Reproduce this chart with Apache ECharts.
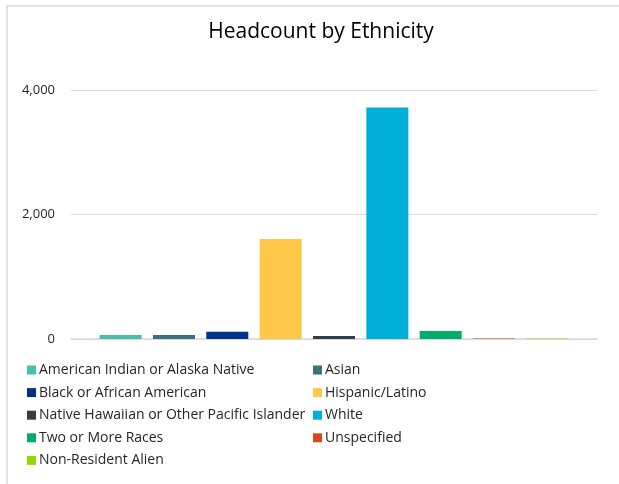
<!DOCTYPE html>
<html>
<head>
<meta charset="utf-8">
<script src="https://cdn.jsdelivr.net/npm/echarts@6/dist/echarts.min.js"></script>
<style>
  html, body { margin: 0; padding: 0; background: #fff; }
  #chart { width: 619px; height: 484px; }
</style>
</head>
<body>
<div id="chart"></div>
<script>
const categories = [
  "American Indian or Alaska Native",
  "Asian",
  "Black or African American",
  "Hispanic/Latino",
  "Native Hawaiian or Other Pacific Islander",
  "White",
  "Two or More Races",
  "Unspecified",
  "Non-Resident Alien"
];
const values = [65, 65, 115, 1605, 50, 3717, 130, 8, 8];
const colors = ["#44c1ab", "#3b707e", "#00338c", "#ffc848", "#333f48", "#00b0d8", "#00ad69", "#d54b1e", "#97d700"];
const yTicks = [0, 2000, 4000];

const chart = echarts.init(document.getElementById('chart'), null, { renderer: 'canvas' });

const series = categories.map((name, i) => ({
  name: name,
  type: 'bar',
  data: [values[i]],
  barWidth: 42,
  barGap: '27%',
  itemStyle: { color: colors[i] },
  emphasis: { disabled: true }
}));

const legendText = { fontFamily: 'Open Sans', fontSize: 14, color: '#262626', lineHeight: 16, padding: [0, 0, 0, -2] };

chart.setOption({
  animation: false,
  color: colors,
  graphic: [{
    type: 'rect',
    shape: { x: 7, y: 6, width: 800, height: 800 },
    style: { fill: 'none', stroke: '#d9d9d9', lineWidth: 1.5 },
    silent: true
  }],
  title: {
    text: 'Headcount by Ethnicity',
    left: 321,
    textAlign: 'center',
    top: 22,
    padding: 0,
    textStyle: { fontFamily: 'Open Sans', fontSize: 21, fontWeight: 'normal', color: '#000' }
  },
  grid: { left: 71, right: 22, top: 90, bottom: 145, containLabel: false },
  xAxis: {
    type: 'category',
    data: [''],
    axisLine: { lineStyle: { color: '#d9d9d9', width: 1.5 } },
    axisTick: { show: false },
    axisLabel: { show: false }
  },
  yAxis: {
    type: 'value',
    min: yTicks[0],
    max: yTicks[yTicks.length - 1],
    interval: 2000,
    axisLine: { show: false },
    axisTick: { show: false },
    splitLine: { lineStyle: { color: '#d9d9d9', width: 1 } },
    axisLabel: {
      margin: 16,
      fontFamily: 'Open Sans',
      fontSize: 13,
      color: '#262626',
      formatter: v => v.toLocaleString('en-US')
    }
  },
  legend: [
    {
      orient: 'vertical',
      left: 27,
      top: 362,
      padding: 0,
      itemWidth: 9,
      itemHeight: 9,
      itemGap: 6.6,
      icon: 'rect',
      selectedMode: false,
      textStyle: legendText,
      data: [categories[0], categories[2], categories[4], categories[6], categories[8]]
    },
    {
      orient: 'vertical',
      left: 313,
      top: 362,
      padding: 0,
      itemWidth: 9,
      itemHeight: 9,
      itemGap: 6.6,
      icon: 'rect',
      selectedMode: false,
      textStyle: legendText,
      data: [categories[1], categories[3], categories[5], categories[7]]
    }
  ],
  series: series
});
</script>
</body>
</html>
